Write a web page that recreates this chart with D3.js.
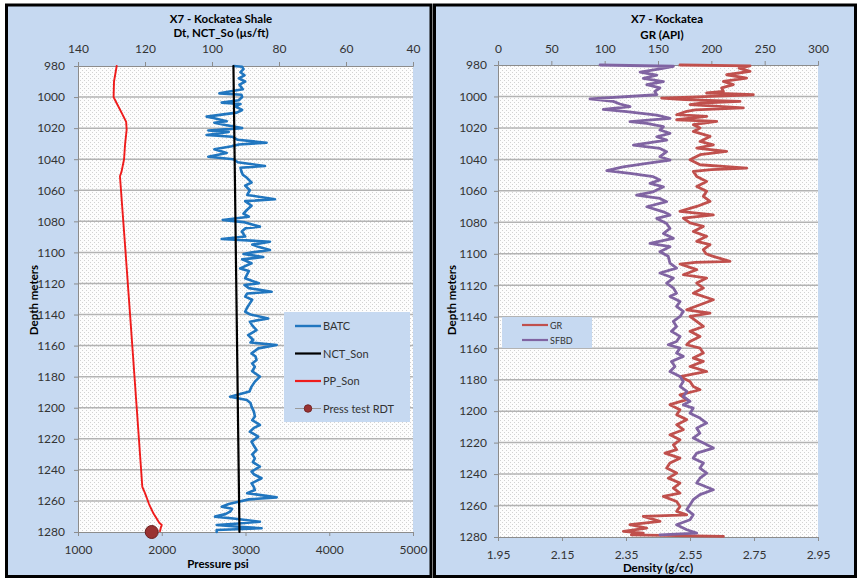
<!DOCTYPE html>
<html><head><meta charset="utf-8">
<script src="https://cdn.jsdelivr.net/npm/d3@7"></script>
<style>
html,body{margin:0;padding:0;background:#fff;}
svg{display:block;font-family:Lato,"Open Sans",sans-serif;}
</style></head><body>
<svg id="chart" width="857" height="579"></svg>
<script>
// ---- Left track: sonic (Dt) and pore pressure vs depth ----
const depthTicks = d3.range(980, 1281, 20);
const dtTicks = [140, 120, 100, 80, 60, 40];
const psiTicks = [1000, 2000, 3000, 4000, 5000];

// BATC sonic log [depth m, Dt us/ft]
const batc = [[980,93.5],[980.5,91.0],[982,90.6],[984,91.5],[986,90.3],[988,92.0],[990,90.1],[992,91.8],[995,90.8],[997.6,97.8],[998.5,91.2],[1000,91.0],[1002,92.0],[1003.6,97.1],[1004.5,91.5],[1006,93.1],[1008.3,91.0],[1010,92.6],[1012.6,101.6],[1013.5,99.6],[1015.5,95.6],[1016.5,99.3],[1018,96.0],[1020,91.0],[1021.5,101.1],[1022.5,95.0],[1024.4,101.6],[1025.5,94.0],[1027.5,92.3],[1029.4,83.7],[1030.5,92.0],[1031.7,94.1],[1033.6,99.3],[1036,95.6],[1038.4,101.1],[1040,93.6],[1042,92.3],[1044.4,84.2],[1045.5,91.5],[1048,91.2],[1050,90.8],[1052,89.6],[1055,88.2],[1057,90.1],[1060,88.7],[1063,89.5],[1065.8,81.2],[1067,90.1],[1070,88.2],[1072.7,89.6],[1075,90.6],[1077,89.0],[1079.1,96.8],[1080.5,90.6],[1083.4,85.7],[1084.5,90.0],[1086.6,91.1],[1089.8,90.1],[1091.4,97.1],[1093.1,82.7],[1095,88.0],[1096.3,86.2],[1098.5,82.7],[1100,88.0],[1101,90.6],[1103,84.7],[1104.5,91.0],[1107,88.2],[1110.3,91.6],[1112,89.0],[1114.5,89.6],[1116.7,90.1],[1119.9,86.0],[1121,90.3],[1123,89.0],[1125.3,82.2],[1126.5,89.5],[1128.5,90.1],[1130.5,88.0],[1132.8,88.7],[1135.5,89.5],[1138.2,90.1],[1140,88.5],[1142.5,83.2],[1144.6,88.7],[1147,88.0],[1150,86.7],[1153.2,89.2],[1156.4,87.7],[1158,88.5],[1159.6,80.7],[1161.8,86.2],[1165,88.2],[1167,87.0],[1169.3,86.7],[1171.5,88.0],[1173.6,87.2],[1176.5,88.0],[1180,85.7],[1183.2,87.2],[1186.4,88.2],[1189.5,88.8],[1192.9,94.6],[1195,89.6],[1197,88.5],[1199.3,88.2],[1202.5,87.5],[1205.7,87.2],[1208,88.0],[1211.1,85.7],[1213,87.5],[1215.4,88.7],[1218.6,86.2],[1221.8,88.2],[1224.5,87.5],[1227.2,86.7],[1230,88.0],[1232.6,87.2],[1235,87.8],[1237.9,85.7],[1241.1,88.2],[1243,87.4],[1245.4,85.2],[1248.7,88.2],[1251,87.5],[1253,87.2],[1255,89.5],[1257.7,80.7],[1259,89.0],[1260.5,92.1],[1262,95.0],[1263.7,97.1],[1265,94.0],[1266.9,94.6],[1268.5,96.0],[1270.1,99.1],[1271.5,93.0],[1273.4,85.7],[1274.5,92.0],[1275.5,98.6],[1276.5,93.0],[1277.6,85.2],[1278.7,98.6],[1280,98.6]];

// Normal compaction trend [depth m, Dt us/ft]
const nctSon = [[980,93.6],[1280,91.8]];

// Pore pressure from sonic [depth m, psi]
const ppSon = [[980,1462],[990,1430],[1000,1425],[1004,1462],[1010,1520],[1016,1575],[1021,1581],[1031,1561],[1040,1550],[1048,1520],[1051,1501],[1100,1568],[1150,1635],[1200,1701],[1251,1768],[1255,1800],[1262,1848],[1268,1900],[1274,1970],[1275.5,2000],[1277,1990],[1279.5,1979]];

// RDT pressure test [depth m, psi]
const rdtTest = [[1280,1880]];

// ---- Right track: gamma ray and bulk density vs depth ----
const grTicks = [0, 50, 100, 150, 200, 250, 300];
const rhoTicks = [1.95, 2.15, 2.35, 2.55, 2.75, 2.95];

// GR [depth m, API]
const gr = [[980,170.6],[980.5,236.3],[982,226],[984,236.3],[986.2,214.4],[988.3,233.1],[990.4,211.3],[992.5,220.6],[994.6,209.7],[996.8,211.3],[997.8,195.6],[998.9,239.4],[1000,200],[1001,153.4],[1002,175],[1003.1,226.9],[1004.2,190],[1005.2,180],[1007.3,230],[1008.5,185],[1009.5,176.9],[1011.6,167.5],[1012.7,195.6],[1014.8,167.5],[1015.8,205],[1017.9,183.1],[1020,189.4],[1022.2,183.1],[1025.4,198.8],[1028.6,189.4],[1030.7,201.9],[1032.8,186.3],[1034.9,214.4],[1037,189.4],[1040.2,180],[1043.4,189.4],[1045.5,233.1],[1046.5,200],[1047.6,183.1],[1050.8,186.3],[1054,195.6],[1057.2,186.3],[1060.3,195.6],[1063.5,192.5],[1066.7,198.8],[1069.9,186.3],[1073,170.6],[1075.2,201.9],[1077.3,173.7],[1080.4,180],[1082.6,192.5],[1085.8,183.1],[1088.9,195.6],[1092.1,186.3],[1094.2,198.8],[1097.4,192.5],[1100,195],[1101.5,201],[1104.8,217.5],[1105.5,185],[1106.5,170.6],[1110.1,186.3],[1113.3,173.7],[1115.4,195.6],[1118.6,186.3],[1121.8,192.5],[1125,183.1],[1129.2,201.9],[1132.4,189.4],[1135.6,176.9],[1137.7,198.8],[1139.8,180],[1143,186.3],[1146.2,192.5],[1149.3,180],[1152.5,189.4],[1155.7,180],[1157.8,176.9],[1160,189.4],[1163.1,192.5],[1166.3,183.1],[1168.4,192.5],[1171.6,180],[1174.8,195.6],[1178,170.6],[1181.1,180],[1184.3,183.1],[1186.4,189.4],[1189.6,170.6],[1192.7,176.9],[1195.9,161.2],[1199.1,170.6],[1202.3,167.5],[1205.4,176.9],[1208.6,167.5],[1211.8,173.7],[1215,161.2],[1218.2,170.6],[1221.4,164.4],[1224.5,167.5],[1226.7,156.5],[1229.9,170.6],[1233,161.2],[1236.2,158.1],[1239.4,167.5],[1242.6,159.7],[1245.7,170.6],[1248.9,164.4],[1252.1,170.6],[1254.2,155],[1257.4,167.5],[1260.6,170.6],[1263.7,167.5],[1265.9,176.9],[1266.9,136.2],[1270.1,151.9],[1272.2,123.7],[1274.3,139.4],[1276.4,117.5],[1277.5,136.2],[1278.6,125],[1279.6,211.3]];

// SFBD [depth m, g/cc]
const sfbd = [[980,2.269],[980.8,2.498],[982.5,2.456],[984.5,2.394],[986.5,2.446],[988.5,2.404],[990.5,2.467],[992.5,2.415],[994.6,2.456],[996.8,2.44],[998.9,2.446],[1001.5,2.2375],[1003.1,2.31],[1004.8,2.331],[1006.5,2.3625],[1008.2,2.279],[1009.7,2.352],[1011.8,2.446],[1013.9,2.4875],[1016,2.3625],[1017.1,2.415],[1019.2,2.467],[1021.3,2.456],[1023.4,2.4875],[1025.6,2.446],[1027.7,2.477],[1030.9,2.373],[1033,2.456],[1035.1,2.477],[1038.3,2.456],[1040.4,2.4875],[1042.5,2.415],[1044.7,2.341],[1047.2,2.29],[1048.9,2.3625],[1051,2.435],[1053.1,2.456],[1055.2,2.425],[1057.4,2.467],[1060.6,2.435],[1062.7,2.383],[1064.8,2.456],[1066.9,2.477],[1070.1,2.415],[1073.3,2.467],[1075.4,2.4875],[1077.5,2.446],[1080.7,2.477],[1083.9,2.4875],[1087.1,2.467],[1090.2,2.498],[1093.4,2.425],[1095.5,2.4875],[1098.7,2.456],[1101.6,2.482],[1105.9,2.4875],[1109.1,2.508],[1112.2,2.456],[1115.4,2.498],[1118.6,2.477],[1121.8,2.498],[1125,2.508],[1127.1,2.4875],[1130.3,2.519],[1133.4,2.508],[1136.6,2.529],[1139.8,2.519],[1143,2.498],[1146.2,2.508],[1149.3,2.492],[1152.5,2.519],[1155.7,2.508],[1157.8,2.482],[1159.9,2.519],[1163.1,2.508],[1165.2,2.529],[1168.4,2.492],[1171.6,2.503],[1174.8,2.4875],[1178,2.519],[1181.1,2.529],[1184.3,2.519],[1187.5,2.54],[1190.7,2.529],[1193.8,2.55],[1196,2.529],[1198.1,2.56],[1201.3,2.55],[1204.4,2.581],[1207.6,2.602],[1210.8,2.571],[1214,2.581],[1217.1,2.56],[1220.3,2.592],[1223.5,2.623],[1226.7,2.571],[1229.9,2.56],[1233,2.592],[1236.2,2.581],[1239.4,2.602],[1242.6,2.581],[1245.7,2.571],[1250,2.623],[1253.1,2.581],[1256.3,2.56],[1259.5,2.55],[1262.6,2.54],[1265.8,2.56],[1269,2.55],[1272.2,2.508],[1275.4,2.54],[1277.5,2.571],[1278.6,2.456]];

const C = {
  panel: "#c6d9f1", axis: "#8c8c8c", grid: "#b3b3b3", text: "#333333",
  batc: "#2176bf", nct: "#000000", pp: "#ee1c1c", rdt: "#993232", rdtEdge: "#6a1d1d",
  gr: "#c0504d", sfbd: "#8064a2"
};

const svg = d3.select("#chart");
const defs = svg.append("defs");
const pat = defs.append("pattern").attr("id", "dots")
  .attr("width", 4).attr("height", 4).attr("patternUnits", "userSpaceOnUse");
pat.append("rect").attr("width", 4).attr("height", 4).attr("fill", "#fdfdfd");
pat.append("rect").attr("x", 0).attr("y", 0).attr("width", 1).attr("height", 1).attr("fill", "#d2d2d2");
pat.append("rect").attr("x", 2).attr("y", 2).attr("width", 1).attr("height", 1).attr("fill", "#d2d2d2");

// panel frames
svg.append("rect").attr("x", 6.5).attr("y", 5).attr("width", 424.5).attr("height", 571.5)
  .attr("fill", C.panel).attr("stroke", "#000").attr("stroke-width", 3);
svg.append("rect").attr("x", 434.5).attr("y", 5).attr("width", 421).attr("height", 571.5)
  .attr("fill", C.panel).attr("stroke", "#000").attr("stroke-width", 3);

function styleAxis(g, size) {
  g.select(".domain").attr("stroke", C.axis).attr("stroke-width", 1);
  g.selectAll(".tick line").attr("stroke", C.axis);
  g.selectAll(".tick text").attr("fill", C.text).style("font-size", size + "px")
    .style("font-family", "Lato, 'Open Sans', sans-serif");
}

function track(opts) {
  const { y, xTop, xBot, x0, x1, topTicks, botTicks, botFmt } = opts;
  const g = svg.append("g");
  const [yt, yb] = y.range();
  g.append("rect").attr("x", x0).attr("y", yt).attr("width", x1 - x0).attr("height", yb - yt)
    .attr("fill", "url(#dots)");
  g.selectAll("line.grid").data(depthTicks.slice(1, -1)).join("line")
    .attr("x1", x0).attr("x2", x1).attr("y1", d => y(d)).attr("y2", d => y(d))
    .attr("stroke", C.grid).attr("stroke-width", 1.5);
  g.append("g").attr("transform", `translate(0,${yt})`)
    .call(d3.axisTop(xTop).tickValues(topTicks).tickFormat(d3.format("d")).tickSize(4).tickPadding(opts.topPad))
    .call(a => styleAxis(a, 12));
  g.append("g").attr("transform", `translate(0,${yb})`)
    .call(d3.axisBottom(xBot).tickValues(botTicks).tickFormat(botFmt).tickSize(4).tickPadding(opts.botPad))
    .call(a => styleAxis(a, 12));
  g.append("g").attr("transform", `translate(${x0},0)`)
    .call(d3.axisLeft(y).tickValues(depthTicks).tickFormat(d3.format("d")).tickSize(4).tickPadding(opts.leftPad))
    .call(a => styleAxis(a, 12));
  return g;
}

function logLine(g, data, xs, ys, color, w) {
  g.append("path").datum(data)
    .attr("d", d3.line().x(d => xs(d[1])).y(d => ys(d[0])))
    .attr("fill", "none").attr("stroke", color).attr("stroke-width", w)
    .attr("stroke-linejoin", "round").attr("stroke-linecap", "round");
}

function text(x, y, s, o = {}) {
  const t = svg.append("text").attr("x", x).attr("y", y).text(s)
    .attr("text-anchor", o.anchor || "middle")
    .attr("fill", o.fill || "#000")
    .style("font-size", (o.size || 12) + "px")
    .style("font-weight", o.bold ? "bold" : "normal");
  if (o.rotate) t.attr("transform", `rotate(-90,${x},${y})`);
  return t;
}

// ---- left track ----
const yL = d3.scaleLinear().domain([980, 1280]).range([66, 532]);
const dtX = d3.scaleLinear().domain([140, 40]).range([78, 413]);
const pX = d3.scaleLinear().domain([1000, 5000]).range([78, 413]);
const gL = track({ y: yL, xTop: dtX, xBot: pX, x0: 78, x1: 413,
  topTicks: dtTicks, botTicks: psiTicks, botFmt: d3.format("d"),
  topPad: 9, botPad: 9, leftPad: 9 });
logLine(gL, batc, dtX, yL, C.batc, 2.6);
logLine(gL, nctSon, dtX, yL, C.nct, 2.2);
logLine(gL, ppSon, pX, yL, C.pp, 1.9);
gL.selectAll("circle.rdt").data(rdtTest).join("circle")
  .attr("cx", d => pX(d[1])).attr("cy", d => yL(d[0])).attr("r", 6.5)
  .attr("fill", C.rdt).attr("stroke", C.rdtEdge).attr("stroke-width", 1);

text(221, 23, "X7 - Kockatea Shale", { bold: true, size: 11.5 });
text(221, 37, "Dt, NCT_So (\u00b5s/ft)", { bold: true, size: 11.5 });
text(218, 568, "Pressure psi", { bold: true, size: 11.5 });
text(38, 300, "Depth meters", { bold: true, size: 11.5, rotate: true });

// legend (left)
const legL = svg.append("g");
legL.append("rect").attr("x", 284).attr("y", 312).attr("width", 126).attr("height", 110).attr("fill", C.panel);
const legItems = [
  { name: "BATC", color: C.batc, w: 2.4 },
  { name: "NCT_Son", color: C.nct, w: 2.2 },
  { name: "PP_Son", color: C.pp, w: 2.2 },
  { name: "Press test RDT", color: "#9a9a9a", w: 1, dot: true }
];
legItems.forEach((it, i) => {
  const yy = 326 + i * 27.5;
  legL.append("line").attr("x1", 295).attr("x2", 321).attr("y1", yy).attr("y2", yy)
    .attr("stroke", it.color).attr("stroke-width", it.w);
  if (it.dot) legL.append("circle").attr("cx", 308).attr("cy", yy).attr("r", 3.8)
    .attr("fill", C.rdt).attr("stroke", C.rdtEdge).attr("stroke-width", 0.8);
  legL.append("text").attr("x", 323).attr("y", yy + 4).text(it.name)
    .attr("fill", C.text).style("font-size", "11px");
});

// ---- right track ----
const yR = d3.scaleLinear().domain([980, 1280]).range([65, 537]);
const grX = d3.scaleLinear().domain([0, 300]).range([498, 818]);
const rhoX = d3.scaleLinear().domain([1.95, 2.95]).range([498, 818]);
const gR = track({ y: yR, xTop: grX, xBot: rhoX, x0: 498, x1: 818,
  topTicks: grTicks, botTicks: rhoTicks, botFmt: d3.format(".2f"),
  topPad: 8, botPad: 9, leftPad: 7 });
logLine(gR, gr, grX, yR, C.gr, 2.8);
logLine(gR, sfbd, rhoX, yR, C.sfbd, 2.8);

text(667, 23, "X7 - Kockatea", { bold: true, size: 11.5 });
text(662, 38.5, "GR (API)", { bold: true, size: 11.5 });
text(658, 572, "Density (g/cc)", { bold: true, size: 11.5 });
text(456, 300, "Depth meters", { bold: true, size: 11.5, rotate: true });

// legend (right)
const legR = svg.append("g");
legR.append("rect").attr("x", 502).attr("y", 317).attr("width", 90).attr("height", 31).attr("fill", C.panel);
[{ name: "GR", color: C.gr }, { name: "SFBD", color: C.sfbd }].forEach((it, i) => {
  const yy = 325 + i * 15;
  legR.append("line").attr("x1", 522).attr("x2", 548).attr("y1", yy).attr("y2", yy)
    .attr("stroke", it.color).attr("stroke-width", 2.2);
  legR.append("text").attr("x", 550).attr("y", yy + 3.5).text(it.name)
    .attr("fill", C.text).style("font-size", "9px");
});
</script>
</body></html>
